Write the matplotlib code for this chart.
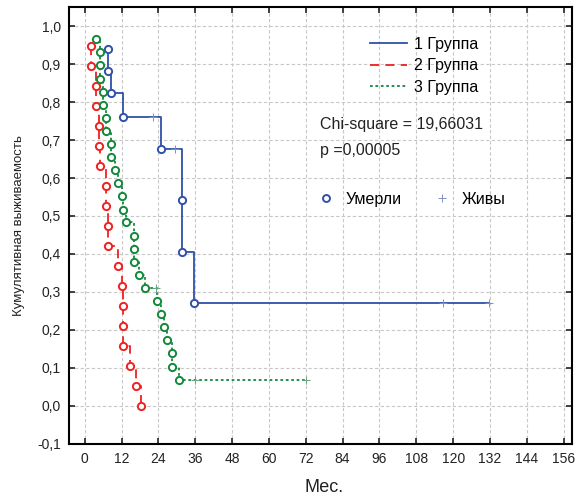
import numpy as np
import matplotlib
matplotlib.use("Agg")
import matplotlib.pyplot as plt
from matplotlib.lines import Line2D

plt.rcParams['font.family'] = ['Liberation Sans', 'DejaVu Sans']

# group 1: event times (months) and survival after each event
g1_time = [7.6, 7.6, 8.7, 12.5, 24.8, 31.8, 31.8, 35.7]
g1_surv = [0.941, 0.882, 0.824, 0.760, 0.676, 0.541, 0.406, 0.270]
g1_end = 131.6
g1_cens_time = [22.3, 29.3, 116.7, 131.6]
g1_cens_surv = [0.760, 0.676, 0.270, 0.270]

# group 2
g2_time = [2.2, 2.2, 3.6, 3.6, 4.7, 4.7, 4.9, 7.1, 7.1, 7.6, 7.6,
           10.8, 12.0, 12.5, 12.5, 12.5, 14.7, 16.8, 18.5]
g2_surv = [0.947, 0.895, 0.842, 0.789, 0.737, 0.684, 0.632, 0.579, 0.526,
           0.474, 0.421, 0.368, 0.316, 0.263, 0.211, 0.158, 0.105, 0.053, 0.0]

# group 3
g3_time = [3.8, 4.9, 4.9, 4.9, 6.0, 6.0, 7.1, 7.1, 8.7, 8.7, 9.8, 10.8,
           12.0, 12.5, 13.6, 16.0, 16.0, 16.0, 17.6, 19.8, 23.5, 24.8,
           25.8, 26.9, 28.6, 28.6, 30.7]
g3_surv = [0.966, 0.931, 0.897, 0.862, 0.828, 0.793, 0.759, 0.724, 0.690,
           0.655, 0.621, 0.586, 0.552, 0.517, 0.483, 0.448, 0.414, 0.379,
           0.345, 0.310, 0.276, 0.241, 0.207, 0.172, 0.138, 0.103, 0.069]
g3_end = 72.2
g3_cens_time = [23.2, 35.8, 72.2]
g3_cens_surv = [0.310, 0.069, 0.069]

group_labels = ['1 Группа', '2 Группа', '3 Группа']
x_ticks = np.arange(0, 157, 12)
y_ticks = np.round(np.arange(-0.1, 1.01, 0.1), 1)

BLUE = '#3050a8'
RED = '#f02020'
GREEN = '#12893a'


def km_curve(ax, times, surv, end, color, ls, label):
    """Draw a step curve starting at the first event, circles at events."""
    xs = list(times) + [end]
    ys = list(surv) + [surv[-1]]
    ax.plot(xs, ys, drawstyle='steps-post', color=color, linestyle=ls,
            lw=1.3, label=label, zorder=3)
    ax.plot(times, surv, 'o', ms=5.2, mfc='white', mec=color, mew=1.4,
            zorder=4)


fig = plt.figure(figsize=(5.79, 4.97), dpi=100)
ax = fig.add_axes([0.1197, 0.1074, 0.8677, 0.8779])

km_curve(ax, g1_time, g1_surv, g1_end, BLUE, '-', group_labels[0])
km_curve(ax, g2_time, g2_surv, g2_time[-1], RED, (0, (5, 3.5)), group_labels[1])
km_curve(ax, g3_time, g3_surv, g3_end, GREEN, (0, (1.5, 1.5)), group_labels[2])

ax.plot(g1_cens_time, g1_cens_surv, '+', ms=6, mew=0.7, color='#7d90c8',
        zorder=5)
ax.plot(g3_cens_time, g3_cens_surv, '+', ms=6, mew=0.7, color='#6aa882',
        zorder=5)

ax.set_xlim(-5, 158.6)
ax.set_ylim(-0.1, 1.05)
ax.set_xticks(x_ticks)
ax.set_yticks(y_ticks)
ax.set_yticklabels([f'{v:.1f}'.replace('.', ',') for v in y_ticks])
ax.tick_params(direction='in', length=4, width=1.2, top=True, right=True,
               labelsize=10, colors='#222222', pad=6)
ax.grid(True, color='#c8c8c8', linestyle=(0, (3, 2)), lw=0.8)
ax.set_axisbelow(True)
for sp in ax.spines.values():
    sp.set_linewidth(1.5)

ax.set_xlabel('Мес.', fontsize=13, color='#222222')
ax.xaxis.set_label_coords(0.507, -0.08)
ax.set_ylabel('Кумулятивная выживаемость', fontsize=9.5, color='#222222')
ax.yaxis.set_label_coords(-0.088, 0.5)

leg1 = ax.legend(loc='upper left', bbox_to_anchor=(0.639, 0.926),
                 bbox_transform=fig.transFigure, frameon=False, fontsize=11.5,
                 handlelength=2.3, handletextpad=0.45, labelspacing=0.4,
                 borderpad=0, borderaxespad=0)
ax.add_artist(leg1)

marker_handles = [
    Line2D([], [], marker='o', ls='none', ms=5, mfc='white', mec=BLUE, mew=1.4),
    Line2D([], [], marker='+', ls='none', ms=6, mew=0.7, color='#7d90c8'),
]
ax.legend(marker_handles, ['Умерли', 'Живы'], loc='upper left',
          bbox_to_anchor=(0.549, 0.614), bbox_transform=fig.transFigure,
          frameon=False, fontsize=11.5, ncol=2, handlelength=1,
          handletextpad=0.75, columnspacing=2.0, borderpad=0, borderaxespad=0)

fig.text(320 / 579, 1 - 125 / 497, 'Chi-square = 19,66031', fontsize=11.5,
         va='center', color='#222222')
fig.text(320 / 579, 1 - 150 / 497, 'p =0,00005', fontsize=11.5,
         va='center', color='#222222')

fig.savefig('out.png', dpi=100)
